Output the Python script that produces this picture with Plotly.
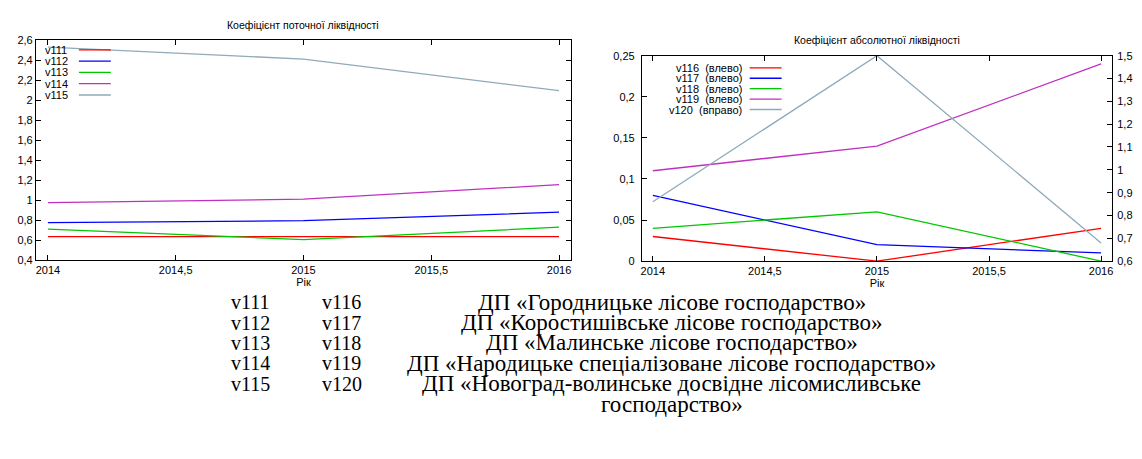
import plotly.graph_objects as go

W, H = 1142, 459

# ---------------- data ----------------
years = [2014, 2015, 2016]

# Chart 1: Коефіцієнт поточної ліквідності
left_names = ["v111", "v112", "v113", "v114", "v115"]
v111 = [0.635, 0.635, 0.635]
v112 = [0.775, 0.795, 0.88]
v113 = [0.71, 0.605, 0.73]
v114 = [0.975, 1.01, 1.155]
v115 = [2.53, 2.41, 2.095]
left_values = [v111, v112, v113, v114, v115]

# Chart 2: Коефіцієнт абсолютної ліквідності
right_names = ["v116  (влево)", "v117  (влево)", "v118  (влево)", "v119  (влево)", "v120  (вправо)"]
v116 = [0.03, 0.0, 0.04]
v117 = [0.08, 0.02, 0.01]
v118 = [0.04, 0.06, 0.0]
v119 = [0.11, 0.14, 0.24]
v120 = [0.86, 1.5, 0.68]   # right axis
right_values = [v116, v117, v118, v119, v120]

x_ticks = [2014, 2014.5, 2015, 2015.5, 2016]
x_ticktext = ["2014", "2014,5", "2015", "2015,5", "2016"]

title_left = "Коефіцієнт поточної ліквідності"
title_right = "Коефіцієнт абсолютної ліквідності"
axis_label = "Рік"

table_codes_a = ["v111", "v112", "v113", "v114", "v115"]
table_codes_b = ["v116", "v117", "v118", "v119", "v120"]
table_names = [
    "ДП «Городницьке лісове господарство»",
    "ДП «Коростишівське лісове господарство»",
    "ДП «Малинське лісове господарство»",
    "ДП «Народицьке спеціалізоване лісове господарство»",
    "ДП «Новоград-волинське досвідне лісомисливське",
]
table_extra = "господарство»"

colors = ["#ff0000", "#0000ff", "#00c800", "#c030c0", "#8faab9"]

# ---------------- helpers ----------------
def px(x):
    return x / W

def py(y):
    return 1 - y / H

FONT = "Liberation Sans, Arial, sans-serif"
SERIF = "Liberation Serif, Times New Roman, serif"

fig = go.Figure()

for name, vals, c in zip(left_names, left_values, colors):
    fig.add_trace(go.Scatter(x=years, y=vals, mode="lines", name=name,
                             line=dict(color=c, width=1.3),
                             xaxis="x", yaxis="y", showlegend=False))

for i, (name, vals, c) in enumerate(zip(right_names, right_values, colors)):
    fig.add_trace(go.Scatter(x=years, y=vals, mode="lines", name=name,
                             line=dict(color=c, width=1.3),
                             xaxis="x2", yaxis="y3" if i == 4 else "y2",
                             showlegend=False))

axis_common = dict(
    showgrid=False, zeroline=False, showline=True, linecolor="black", linewidth=1,
    ticks="inside", ticklen=5, tickcolor="black", tickwidth=1,
    tickfont=dict(family=FONT, size=11, color="black"),
)

lx0, lx1, ly0, ly1 = 35, 571, 35, 261
rx0, rx1, ry0, ry1 = 642, 1113, 51, 262
lpad = 12 / ((559 - 47) / 2)
rpad = 11 / ((1102 - 653) / 2)

fig.update_layout(
    width=W, height=H, autosize=False,
    margin=dict(l=0, r=0, t=0, b=0),
    paper_bgcolor="white", plot_bgcolor="white",
    separators=", ",
    showlegend=False,
    xaxis=dict(axis_common, domain=[px(lx0), px(lx1)], anchor="y",
               range=[2014 - lpad, 2016 + lpad], mirror="ticks",
               tickvals=x_ticks, ticktext=x_ticktext,
               title=dict(text=axis_label, standoff=2,
                          font=dict(family=FONT, size=11, color="black"))),
    yaxis=dict(axis_common, domain=[py(ly1), py(ly0)], anchor="x",
               range=[0.4, 2.6], dtick=0.2, tick0=0.4, mirror="ticks"),
    xaxis2=dict(axis_common, domain=[px(rx0), px(rx1)], anchor="y2",
                range=[2014 - rpad, 2016 + rpad], mirror="ticks",
                tickvals=x_ticks, ticktext=x_ticktext,
                title=dict(text=axis_label, standoff=2,
                           font=dict(family=FONT, size=11, color="black"))),
    yaxis2=dict(axis_common, domain=[py(ry1), py(ry0)], anchor="x2",
                range=[0, 0.25], dtick=0.05, mirror=False, ticklabelstandoff=4),
    yaxis3=dict(axis_common, overlaying="y2", side="right", anchor="x2",
                range=[0.6, 1.5], dtick=0.1, tick0=0.6, ticklabelstandoff=2),
)

ann = []
shapes = []

# titles
ann.append(dict(text=title_left, x=px((lx0 + lx1) / 2), y=py(19), xref="paper", yref="paper",
                showarrow=False, font=dict(family=FONT, size=10.5, color="black"),
                xanchor="center", yanchor="middle"))
ann.append(dict(text=title_right, x=px((rx0 + rx1) / 2), y=py(35), xref="paper", yref="paper",
                showarrow=False, font=dict(family=FONT, size=10.5, color="black"),
                xanchor="center", yanchor="middle"))

# left legend (text then sample line)
for i, (name, c) in enumerate(zip(left_names, colors)):
    yy = 45 + i * 11.6
    ann.append(dict(text=name, x=px(42), y=py(yy), xref="paper", yref="paper",
                    showarrow=False, xanchor="left", yanchor="middle",
                    font=dict(family=FONT, size=11, color="black")))
    shapes.append(dict(type="line", xref="paper", yref="paper",
                       x0=px(78), x1=px(110), y0=py(yy), y1=py(yy),
                       line=dict(color=c, width=1.3)))

# right legend
for i, (name, c) in enumerate(zip(right_names, colors)):
    yy = 63.5 + i * 10.7
    ann.append(dict(text=name, x=px(744), y=py(yy), xref="paper", yref="paper",
                    showarrow=False, xanchor="right", yanchor="middle",
                    font=dict(family=FONT, size=11, color="black")))
    shapes.append(dict(type="line", xref="paper", yref="paper",
                       x0=px(750), x1=px(782), y0=py(yy), y1=py(yy),
                       line=dict(color=c, width=1.3)))

# bottom table
row_y = [304, 325, 346, 367, 388]
CODE_SIZE = 20
NAME_SIZE = 23
for a, b, n, yy in zip(table_codes_a, table_codes_b, table_names, row_y):
    ann.append(dict(text=a, x=px(228), y=py(yy), xref="paper", yref="paper", showarrow=False,
                    xanchor="left", yanchor="middle", font=dict(family=SERIF, size=CODE_SIZE, color="black")))
    ann.append(dict(text=b, x=px(320), y=py(yy), xref="paper", yref="paper", showarrow=False,
                    xanchor="left", yanchor="middle", font=dict(family=SERIF, size=CODE_SIZE, color="black")))
    ann.append(dict(text=n, x=px(672), y=py(yy), xref="paper", yref="paper", showarrow=False,
                    xanchor="center", yanchor="middle", font=dict(family=SERIF, size=NAME_SIZE, color="black")))
ann.append(dict(text=table_extra, x=px(672), y=py(409), xref="paper", yref="paper", showarrow=False,
                xanchor="center", yanchor="middle", font=dict(family=SERIF, size=NAME_SIZE, color="black")))

fig.update_layout(annotations=ann, shapes=shapes)

fig.write_html(
    "out.html",
    config={"displayModeBar": False},
    post_script="document.body.style.margin='0';document.body.style.overflow='hidden';",
)
